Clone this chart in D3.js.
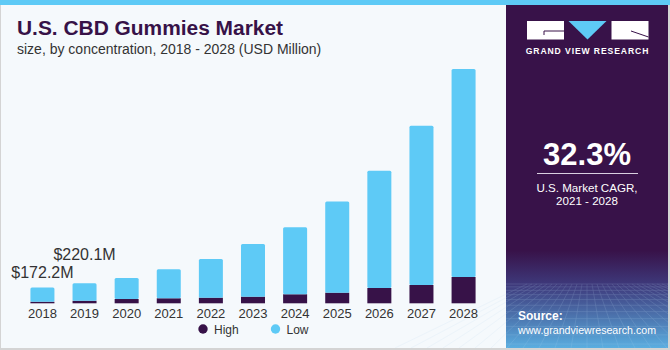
<!DOCTYPE html>
<html>
<head>
<meta charset="utf-8">
<script src="https://cdn.jsdelivr.net/npm/d3@7"></script>
<style>
  body { margin: 0; background: #fff; }
  svg { display: block; font-family: "Liberation Sans", Arial, sans-serif; }
</style>
</head>
<body>
<div id="viz"></div>
<script>
'use strict';

const years = ['2018', '2019', '2020', '2021', '2022', '2023', '2024', '2025', '2026', '2027', '2028'];
const highValues = [17.6, 28.6, 47, 55, 62, 73, 99, 117, 168, 201, 289];
const lowValues = [154.6, 191.5, 231, 319, 425, 579, 737, 1001, 1287, 1749, 2285];
const seriesNames = ['High', 'Low'];
const seriesColors = ['#371248', '#5ecaf6'];
const annotations = [{ year: '2018', label: '$172.2M', dy: -9.5 }, { year: '2019', label: '$220.1M', dy: -23.5 }];

const W = 670, H = 350;
const panelX = 506;

const svg = d3.select('#viz').append('svg')
  .attr('width', W).attr('height', H);

const defs = svg.append('defs');
const grad = defs.append('linearGradient')
  .attr('id', 'panelGrad').attr('x1', 0).attr('y1', 0).attr('x2', 0).attr('y2', 1);
grad.append('stop').attr('offset', '0%').attr('stop-color', '#381249');
grad.append('stop').attr('offset', '72%').attr('stop-color', '#381249');
grad.append('stop').attr('offset', '82%').attr('stop-color', '#3e3a7c');
grad.append('stop').attr('offset', '100%').attr('stop-color', '#5aaee0');

// backgrounds
svg.append('rect').attr('x', 0).attr('y', 0).attr('width', W).attr('height', H).attr('fill', '#d4d4d4');
svg.append('rect').attr('x', 1).attr('y', 0).attr('width', panelX - 1).attr('height', H - 2).attr('fill', '#f5f9fc');
svg.append('rect').attr('x', panelX).attr('y', 0).attr('width', W - panelX - 2).attr('height', H - 2).attr('fill', 'url(#panelGrad)');

// grid texture at the bottom of the side panel
const gridG = svg.append('g').attr('opacity', 0.25).attr('stroke', '#b9d6f2').attr('stroke-width', 0.6).attr('fill', 'none');
d3.range(0, 14).forEach(i => {
  const yy = 284 + i * i * 0.35 + i * 2.5;
  if (yy < H - 2) gridG.append('line').attr('x1', panelX).attr('x2', W - 2).attr('y1', yy).attr('y2', yy);
});
d3.range(-12, 25).forEach(i => {
  const xTop = 587 + i * 5;
  const xBot = 587 + i * 16;
  gridG.append('line').attr('x1', xTop).attr('y1', 284).attr('x2', xBot).attr('y2', H - 2);
});

// top strip
svg.append('rect').attr('x', 0).attr('y', 0).attr('width', W).attr('height', 5).attr('fill', '#5ecaf6');

// titles
svg.append('text').attr('x', 17).attr('y', 35)
  .attr('font-size', 19.5).attr('font-weight', 'bold').attr('fill', '#371248')
  .attr('textLength', 266).attr('lengthAdjust', 'spacingAndGlyphs')
  .text('U.S. CBD Gummies Market');
svg.append('text').attr('x', 17).attr('y', 54)
  .attr('font-size', 14).attr('fill', '#333')
  .text('size, by concentration, 2018 - 2028 (USD Million)');

// scales
const x = d3.scaleBand().domain(years).range([22, 484]).paddingInner(0.43).paddingOuter(0.2);
const y = d3.scaleLinear().domain([0, 2600]).range([303.3, 66.6]);

const stackData = years.map((yr, i) => ({ year: yr, High: highValues[i], Low: lowValues[i] }));
const stacked = d3.stack().keys(seriesNames)(stackData);

const g = svg.append('g');
stacked.forEach((layer, li) => {
  g.append('g').attr('fill', seriesColors[li])
    .selectAll('rect').data(layer).join('rect')
    .attr('x', d => x(d.data.year))
    .attr('width', x.bandwidth())
    .attr('y', d => y(d[1]))
    .attr('height', d => y(d[0]) - y(d[1]))
    .attr('rx', li === 1 ? 1.5 : 0);
});

// x axis
const xAxis = svg.append('g').attr('transform', 'translate(0,303.3)')
  .call(d3.axisBottom(x).tickSize(0).tickPadding(5));
xAxis.select('.domain').remove();
xAxis.selectAll('text').attr('font-size', 13).attr('fill', '#333')
  .attr('font-family', '"Liberation Sans", Arial, sans-serif');

// annotations
const total = years.map((yr, i) => highValues[i] + lowValues[i]);
annotations.forEach(a => {
  const i = years.indexOf(a.year);
  svg.append('text')
    .attr('x', x(a.year) + x.bandwidth() / 2)
    .attr('y', y(total[i]) + a.dy)
    .attr('text-anchor', 'middle')
    .attr('font-size', 16).attr('fill', '#333')
    .text(a.label);
});

// legend
const legendX = [203, 275.5];
seriesNames.forEach((name, i) => {
  svg.append('circle').attr('cx', legendX[i]).attr('cy', 329).attr('r', 4.7).attr('fill', seriesColors[i]);
  svg.append('text').attr('x', legendX[i] + 11).attr('y', 333.5)
    .attr('font-size', 12).attr('fill', '#333').text(name);
});

// logo
const logo = svg.append('g');
logo.append('rect').attr('x', 527).attr('y', 21).attr('width', 37).attr('height', 18.5).attr('fill', '#fff');
logo.append('path').attr('d', 'M544,35 L544,31 L564,31').attr('stroke', '#381249').attr('stroke-width', 1).attr('fill', 'none');
logo.append('path').attr('d', 'M568.5,21 L606.5,21 L587.5,39.5 Z').attr('fill', '#5ecaf6');
logo.append('rect').attr('x', 611.5).attr('y', 21).attr('width', 37).attr('height', 18.5).attr('fill', '#fff');
logo.append('path').attr('d', 'M631,31 L648.5,37').attr('stroke', '#381249').attr('stroke-width', 1).attr('fill', 'none');
logo.append('text').attr('x', 587.5).attr('y', 53.5).attr('text-anchor', 'middle')
  .attr('font-size', 8.6).attr('font-weight', 'bold').attr('fill', '#fff').attr('letter-spacing', 0.9)
  .text('GRAND VIEW RESEARCH');

// CAGR block
svg.append('text').attr('x', 587).attr('y', 165).attr('text-anchor', 'middle')
  .attr('font-size', 31).attr('font-weight', 'bold').attr('fill', '#fff').text('32.3%');
svg.append('line').attr('x1', 537).attr('x2', 638).attr('y1', 173.5).attr('y2', 173.5)
  .attr('stroke', '#d8cfe0').attr('stroke-width', 1.2);
svg.append('text').attr('x', 587).attr('y', 191.5).attr('text-anchor', 'middle')
  .attr('font-size', 11.6).attr('fill', '#fff').text('U.S. Market CAGR,');
svg.append('text').attr('x', 587).attr('y', 204.5).attr('text-anchor', 'middle')
  .attr('font-size', 11.6).attr('fill', '#fff').text('2021 - 2028');

// source
svg.append('text').attr('x', 518).attr('y', 319.5)
  .attr('font-size', 12).attr('font-weight', 'bold').attr('fill', '#fff').text('Source:');
svg.append('text').attr('x', 518).attr('y', 333.5)
  .attr('font-size', 11.5).attr('fill', '#fff')
  .attr('textLength', 138).attr('lengthAdjust', 'spacingAndGlyphs')
  .text('www.grandviewresearch.com');
</script>
</body>
</html>
